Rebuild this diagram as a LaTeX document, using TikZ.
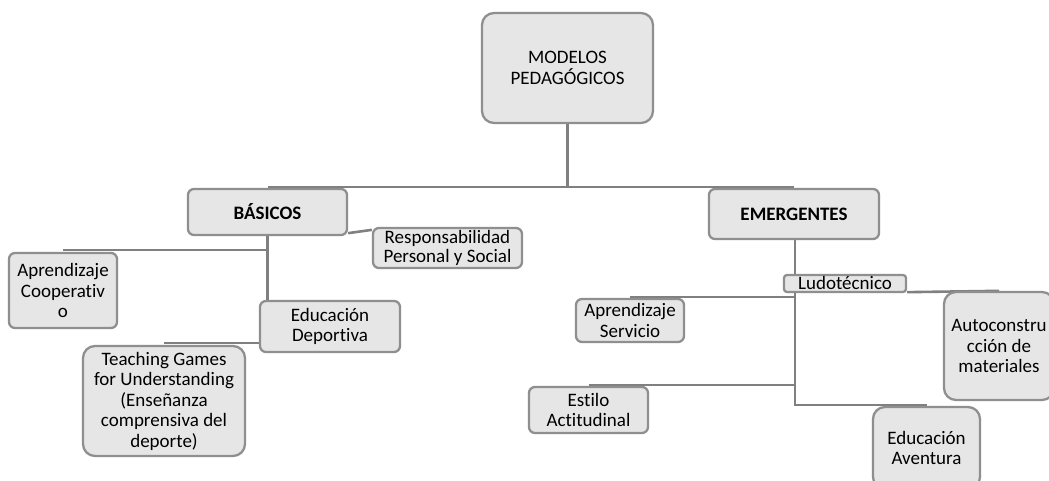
\documentclass[tikz,border=0pt]{standalone}
\usepackage{fontspec}
\setmainfont[Ligatures=NoCommon]{Carlito}
\usetikzlibrary{backgrounds}
\definecolor{boxgray}{HTML}{8F8F8F}
\definecolor{boxfill}{HTML}{E6E6E6}
\definecolor{linegray}{HTML}{808080}
\begin{document}
\begin{tikzpicture}[x=1pt,y=-1pt,
  box/.style={draw=boxgray, fill=boxfill, line width=2.3pt, rounded corners=6pt,
    align=center, inner sep=0pt, font=\fontsize{19}{20.5}\selectfont},
  bigbox/.style={box, rounded corners=12pt},
  conn/.style={draw=linegray, line width=2.6pt}]
\useasboundingbox (0,0) rectangle (1049,480);
\clip (0,0) rectangle (1049,480);

\node[bigbox, minimum width=171, minimum height=110] (top) at (567.5,68) {MODELOS\\PEDAG\'OGICOS};
\node[box, minimum width=159, minimum height=46, font=\fontsize{19}{20.5}\selectfont\bfseries] (bas) at (267.5,212) {B\'ASICOS};
\node[box, minimum width=170, minimum height=50, font=\fontsize{19}{20.5}\selectfont\bfseries] (emer) at (794,214) {EMERGENTES};
\node[box, minimum width=149, minimum height=40, font=\fontsize{19}{18.5}\selectfont] (resp) at (447.5,248) {Responsabilidad\\Personal y Social};
\node[box, minimum width=108, minimum height=75] (coop) at (63,290.5) {Aprendizaje\\Cooperativ\\o};
\node[box, minimum width=140, minimum height=51] (edep) at (330,326.5) {Educaci\'on\\Deportiva};
\node[bigbox, minimum width=162, minimum height=110] (tgfu) at (164,401) {Teaching Games\\for Understanding\\(Ense\~nanza\\comprensiva del\\deporte)};
\node[box, rounded corners=3pt, minimum width=122, text height=14pt, text depth=3pt] (ludo) at (845,283.5) {Ludot\'ecnico};
\node[box, minimum width=108, minimum height=43] (asrv) at (630,320.5) {Aprendizaje\\Servicio};
\node[box, minimum width=119, minimum height=46] (esti) at (588.5,410) {Estilo\\Actitudinal};
\node[bigbox, minimum width=110, minimum height=108] (auto) at (999,346) {Autoconstru\\cci\'on de\\materiales};
\node[bigbox, minimum width=107, minimum height=82] (aven) at (926.5,448) {Educaci\'on\\Aventura};

\coordinate (j1) at (567.5,188);
\coordinate (bt) at (795,292);

\begin{scope}[on background layer]
\fill[white] (0,0) rectangle (1049,480);
\draw[conn] (top.south) -- (j1);
\draw[conn] ([yshift=1pt]bas.north) -- ([yshift=1pt]emer.north);
\draw[conn] ([yshift=3pt]bas.south east) -- ([yshift=-3pt]resp.north west);
\draw[conn] (bas.south) -- (bas.south |- edep.north);
\draw[conn] ([yshift=2pt]coop.north) -- ([yshift=2pt]coop.north -| bas.south);
\draw[conn] ([yshift=2pt]tgfu.north) -- ([yshift=2pt]tgfu.north -| edep.west);
\draw[conn] (emer.south -| bt) -- (ludo.north -| bt);
\draw[conn] (bt) |- ([yshift=1pt]aven.north);
\draw[conn] ([yshift=1pt]asrv.north) -- ([yshift=1pt]asrv.north -| bt);
\draw[conn] ([yshift=1pt]esti.north) -- ([yshift=1pt]esti.north -| bt);
\draw[conn] ([yshift=1pt]ludo.south east) -- (auto.north);
\end{scope}
\end{tikzpicture}
\end{document}
